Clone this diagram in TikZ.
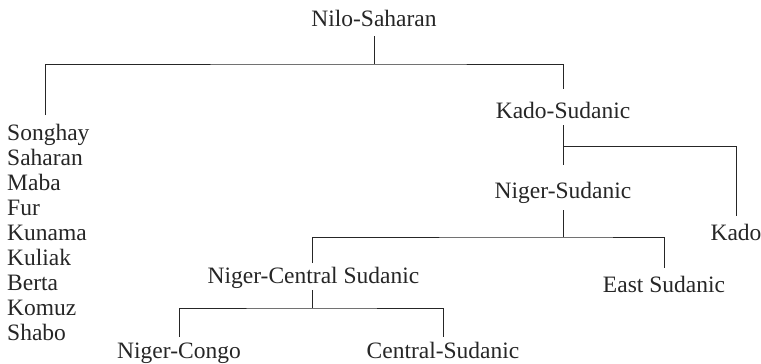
\documentclass[tikz,border=0pt]{standalone}
\usepackage{fontspec}
\setmainfont{Liberation Serif}
\begin{document}
\begin{tikzpicture}[x=1pt,y=-1pt,
  lbl/.style={inner sep=0pt,anchor=base,text=black!85,font=\fontsize{23.5}{25}\selectfont},
  conn/.style={line width=1pt,draw=black!85}]
\useasboundingbox (0,0) rectangle (761,364);
% nodes
\node[lbl] (nilo) at (374,27) {Nilo-Saharan};
\node[lbl] (kadosud) at (563,118) {Kado-Sudanic};
\node[lbl] (nigersud) at (563,198) {Niger-Sudanic};
\node[lbl] (kado) at (736,240) {Kado};
\node[lbl] (east) at (664,292) {East Sudanic};
\node[lbl] (ncs) at (313.5,283) {Niger-Central Sudanic};
\node[lbl] (congo) at (179,358) {Niger-Congo};
\node[lbl] (central) at (443,358) {Central-Sudanic};
\foreach \t [count=\i] in {Songhay,Saharan,Maba,Fur,Kunama,Kuliak,Berta,Komuz,Shabo}
  \node[lbl,anchor=base west] (s\i) at (7,{115+25*\i}) {\t};
% junctions
\coordinate (b1) at (372,64);
\coordinate (b2) at (563,146);
\coordinate (b3) at (563,237);
\coordinate (b4) at (312,308);
% connectors
\draw[conn] ([yshift=-9pt]nilo.base) -- (nilo.base |- b1);
\draw[conn] ([xshift=-3pt,yshift=25pt]s1.base) |- (b1) -| ([yshift=29pt]kadosud.base);
\draw[conn] ([yshift=-7pt]kadosud.base) -- ([yshift=33pt]nigersud.base);
\draw[conn] (b2) -| ([yshift=24pt]kado.base);
\draw[conn] ([yshift=-12pt]nigersud.base) -- (b3);
\draw[conn] ([xshift=-1.5pt,yshift=20pt]ncs.base) |- (b3) -| ([yshift=24pt]east.base);
\draw[conn] ([xshift=-1.5pt,yshift=-7pt]ncs.base) -- (b4);
\draw[conn] ([yshift=21pt]congo.base) |- (b4) -| ([yshift=21pt]central.base);
\end{tikzpicture}
\end{document}
